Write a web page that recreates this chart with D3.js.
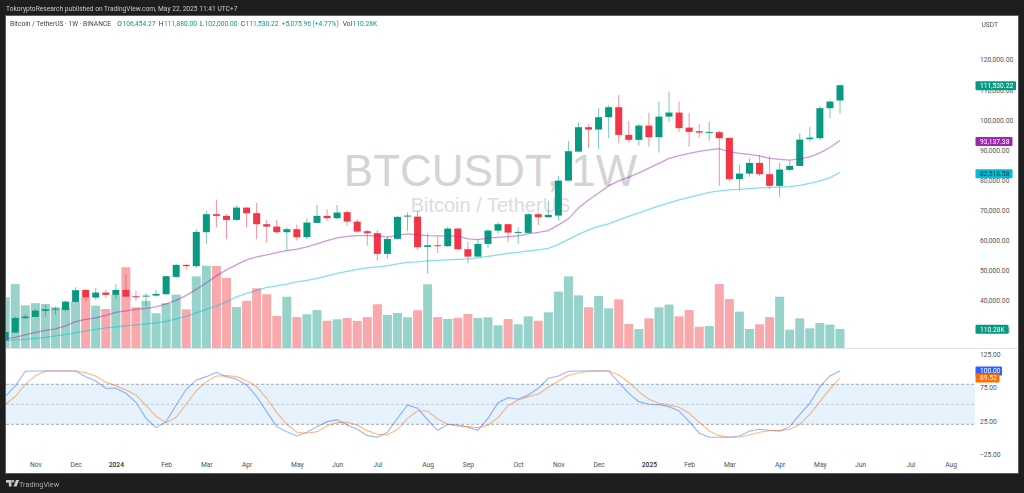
<!DOCTYPE html>
<html>
<head>
<meta charset="utf-8">
<script src="https://cdn.jsdelivr.net/npm/d3@7"></script>
<style>
  html, body { margin: 0; padding: 0; background: #1e1e1e; overflow: hidden; }
  svg { display: block; font-family: Roboto, sans-serif; filter: blur(0.3px); }
  .axis text { font-family: Roboto, sans-serif; font-size: 6.7px; fill: #4f5259; }
  .axis path, .axis line { display: none; }
</style>
</head>
<body>
<svg id="chart" width="1024" height="493"></svg>
<script>
// weekly candles, 16 Oct 2023 to 19 May 2025
var weeks = d3.utcMonday.range(new Date(Date.UTC(2023, 9, 16)), new Date(Date.UTC(2025, 4, 20)));

var opens = [26560,29220,34010,34440,36440,36870,36770,39430,43430,40870,42530,41770,43430,41330,41200,41530,42000,47760,51750,51320,62630,68620,68060,66720,70820,68950,65290,64500,62630,63630,60970,65730,68060,67290,69290,66160,62960,62300,55410,60400,67820,67820,57740,58300,57970,63830,56970,54510,58740,63160,65290,62400,62400,68620,67620,68160,79800,89450,97570,96780,100900,104230,95010,93350,98100,94250,101100,102430,97440,96240,95780,95910,94010,80270,82130,85690,81930,78040,83360,84690,93580,93910,103900,106454.27];
var highs = [30120,34540,35440,37100,38440,37870,39870,44330,43530,44000,43430,45400,48750,43200,42330,43430,48200,52180,52180,63630,69720,73480,68620,71490,70950,72380,66720,66720,64290,65160,67290,71720,70290,71720,69820,66960,63400,63400,61170,68060,69160,69720,62300,61170,64500,64160,59400,60400,63630,65960,65390,64290,68950,69160,73150,81370,93020,99240,98570,103900,105000,108320,99670,98670,102430,106100,109420,106100,102330,98670,99340,96340,94110,85030,87260,88360,88120,85790,86460,95580,97670,104660,106430,111880];
var lows = [26120,29120,33780,34340,34440,35110,36210,39200,39770,40100,40870,40330,41100,39870,38100,41200,41770,47420,50190,50650,58740,64290,60300,66390,64290,60300,59170,62070,56300,59840,60400,65730,66390,66960,64730,62500,58170,53180,53840,60170,63060,56740,48750,55740,57640,56740,52300,54310,57410,62160,59400,58740,62160,65060,67290,66490,79800,89250,90590,90250,93910,92250,92450,91450,91120,89120,99240,96010,91120,93910,93120,78040,79700,76470,81030,81370,76940,74380,82800,84690,92780,93350,100570,102000];
var closes = [29450,34110,34540,36540,37000,37210,39530,43330,40870,42530,41770,43430,41200,41200,41530,42100,47990,51750,51320,62730,68620,68060,66720,70820,68950,65290,64500,62630,63630,60970,65830,68060,67290,69160,66160,62830,62300,55410,60400,67720,68160,57640,58300,57970,63830,56970,54510,58740,63160,65290,62500,62730,68620,67620,68390,79800,89590,97570,96780,100900,104230,95010,93350,98100,94250,101100,102430,97240,96010,95780,96010,93910,80270,82130,85690,81930,78040,83460,84690,93450,94110,103900,106100,111530.22];

// volume in thousands of BTC
var volumes = [291,366,245,257,253,234,235,266,288,243,224,304,462,234,271,200,257,306,222,410,471,469,401,235,271,342,308,184,294,178,194,218,157,165,173,156,178,251,190,201,177,217,365,178,167,174,196,173,177,131,167,137,182,157,205,323,410,302,234,298,228,279,139,110,171,234,249,182,218,123,127,367,281,209,110,137,178,294,106,171,114,144,135,110.28];

var maFast = [27120,27620,28450,29290,29950,30450,31450,32880,33610,34110,34940,35940,36440,36940,37270,37770,38770,39930,41600,43590,45760,48090,50080,51850,53410,54410,55080,55840,56510,56970,57740,58740,59840,60730,61230,61500,61500,61400,60970,61570,62070,61730,61500,61400,61400,61400,60400,60170,60630,60900,61170,61400,62070,62560,63160,65060,67060,70720,73380,75710,78040,79700,80940,82370,83930,85530,87190,88120,88850,89520,90020,90450,89350,88850,88520,88020,87190,86860,86590,87030,87690,89020,90790,93137.38];
var maSlow = [26620,26790,26950,27290,27620,28120,28550,29120,29780,30280,30780,31110,31450,31780,32110,32450,32950,33780,34610,35770,36940,38100,39430,41100,42260,43260,44260,44760,45330,46090,46590,47260,48090,48920,49580,50250,50750,51080,51410,52080,52580,52750,53080,53250,53410,53580,53750,54080,54580,55080,55580,55910,56410,56740,57240,58570,60230,61900,63400,64560,65390,66720,67890,69050,70220,71380,72380,73380,74210,75040,75880,76380,76710,76870,77140,77370,77470,77640,77810,78210,78870,79700,80800,82518.58];

var stochK = [61.5,77.5,99.5,100,100,100,100,100,91.5,85,74,74,66.5,53,29,15,24,49,72.5,86.5,91.5,98,91.5,87.5,79,61.5,39,16.5,9,2.5,8,16.5,24,27,19,12.5,3,0.5,8,29,49,44,26.5,11,20,19,15.5,11,29,52.5,60,57.5,64,74,89,92.5,99.5,100,100,100,100,83,66.5,54,50,49.5,46.5,40,24,7,0.5,0.5,0.5,2.5,10,12.5,11,10,16.5,35,51.5,76.5,92.5,100];
var stochD = [50,61.5,80,93,100,100,100,100,97.5,92.5,83,78,71.5,64,48,32,22.5,30.5,50.5,70,84,92.5,93,91.5,85.5,76.5,59,37.5,20,8,6.5,9,17.5,22.5,23,19,10.5,5,4,12.5,29,40,40,28,20,17.5,16.5,15,18.5,30,48,56.5,61.5,65.5,75.5,85,93.5,97,99.5,100,100,94,83,69,57.5,51.5,49,45.5,36.5,23,10,3,0.5,1,4,8,10.5,10.5,12.5,20,35,54,73,89.52];

var priceTicks = [30000,40000,50000,60000,70000,80000,90000,100000,110000,120000];
var stochTicks = [125,75,25,-25];
var stochLevels = [80,50,20];

var timeTicks = [
  [2023,10,6,"Nov"],[2023,11,4,"Dec"],[2024,0,1,"2024"],[2024,1,5,"Feb"],[2024,2,4,"Mar"],[2024,3,1,"Apr"],
  [2024,4,6,"May"],[2024,5,3,"Jun"],[2024,6,1,"Jul"],[2024,7,5,"Aug"],[2024,8,2,"Sep"],[2024,9,7,"Oct"],
  [2024,10,4,"Nov"],[2024,11,2,"Dec"],[2025,0,6,"2025"],[2025,1,3,"Feb"],[2025,2,3,"Mar"],[2025,3,7,"Apr"],
  [2025,4,5,"May"],[2025,5,2,"Jun"],[2025,6,7,"Jul"],[2025,7,4,"Aug"]
];

var UP = "#089981", DOWN = "#f23645";
var left = 6, right = 975, paneRight = 1018, bottom = 473;

var svg = d3.select("#chart");

svg.append("rect").attr("x", left).attr("y", 16).attr("width", paneRight - left).attr("height", bottom - 16).attr("fill", "#fff");
svg.append("rect").attr("x", left - 0.5).attr("y", 15.5).attr("width", paneRight - left + 1).attr("height", bottom - 15).attr("fill", "none").attr("stroke", "#8a8a8a").attr("stroke-width", 0.6);

svg.append("clipPath").attr("id", "plot").append("rect").attr("x", left).attr("y", 16).attr("width", right - left).attr("height", bottom - 16);

var x = d3.scaleUtc().domain([weeks[0], weeks[weeks.length - 1]]).range([5.2, 840]);
var y = d3.scaleLinear().domain([30000, 120000]).range([330.25, 59.8]);
var yVol = d3.scaleLinear().domain([0, 500]).range([348.3, 260.6]);
var yStoch = d3.scaleLinear().domain([-25, 125]).range([454.3, 354.3]);

var plot = svg.append("g").attr("clip-path", "url(#plot)");

// watermark
plot.append("text").attr("x", 490.5).attr("y", 186).attr("text-anchor", "middle")
  .style("font-family", "'Liberation Sans', sans-serif").style("font-size", "44px").attr("fill", "#d4d4d6").text("BTCUSDT, 1W");
plot.append("text").attr("x", 490.5).attr("y", 212).attr("text-anchor", "middle")
  .style("font-family", "'Liberation Sans', sans-serif").style("font-size", "20px").attr("fill", "#dcdcde").text("Bitcoin / TetherUS");

// volume
plot.selectAll(".vol").data(volumes).enter().append("rect")
  .attr("class", "vol")
  .attr("x", function(d, i) { return x(weeks[i]) - 4.5; })
  .attr("width", 9)
  .attr("y", function(d) { return yVol(d); })
  .attr("height", function(d) { return yVol(0) - yVol(d); })
  .attr("fill", function(d, i) { return closes[i] >= opens[i] ? "#97d3ca" : "#f9a9ac"; });

// candles
plot.selectAll(".wick").data(weeks).enter().append("line")
  .attr("class", "wick")
  .attr("x1", function(d) { return x(d); })
  .attr("x2", function(d) { return x(d); })
  .attr("y1", function(d, i) { return y(highs[i]); })
  .attr("y2", function(d, i) { return y(lows[i]); })
  .attr("stroke", function(d, i) { return closes[i] >= opens[i] ? UP : DOWN; })
  .attr("stroke-opacity", 0.55)
  .attr("stroke-width", 1);

plot.selectAll(".body").data(weeks).enter().append("rect")
  .attr("class", "body")
  .attr("x", function(d) { return x(d) - 3.5; })
  .attr("width", 7)
  .attr("y", function(d, i) { return y(Math.max(opens[i], closes[i])); })
  .attr("height", function(d, i) { return Math.max(1, Math.abs(y(opens[i]) - y(closes[i]))); })
  .attr("fill", function(d, i) { return closes[i] >= opens[i] ? UP : DOWN; });

function drawLine(values, scale, colour, opacity, width) {
  var line = d3.line()
    .x(function(d, i) { return x(weeks[i]); })
    .y(function(d) { return scale(d); });
  plot.append("path").attr("d", line(values)).attr("fill", "none")
    .attr("stroke", colour).attr("stroke-opacity", opacity).attr("stroke-width", width);
}

drawLine(maFast, y, "#9c27b0", 0.48, 1.25);
drawLine(maSlow, y, "#00bcd4", 0.48, 1.25);

// pane separator
svg.append("line").attr("x1", left).attr("x2", paneRight).attr("y1", 348.5).attr("y2", 348.5).attr("stroke", "#e0e3eb").attr("stroke-width", 1);

// stochastic pane
plot.append("rect").attr("x", left).attr("width", right - left)
  .attr("y", yStoch(stochLevels[0])).attr("height", yStoch(stochLevels[2]) - yStoch(stochLevels[0]))
  .attr("fill", "#e6f3fd");

plot.selectAll(".level").data(stochLevels).enter().append("line")
  .attr("class", "level")
  .attr("x1", left).attr("x2", right)
  .attr("y1", function(d) { return yStoch(d); })
  .attr("y2", function(d) { return yStoch(d); })
  .attr("stroke", function(d) { return d === 50 ? "#b8bcc4" : "#8f939b"; })
  .attr("stroke-width", 0.8)
  .attr("stroke-dasharray", "3,2");

drawLine(stochK, yStoch, "#2962ff", 0.48, 1.1);
drawLine(stochD, yStoch, "#ff6d00", 0.48, 1.1);

// axes
var priceAxis = d3.axisRight(y).tickValues(priceTicks).tickSize(0).tickPadding(0)
  .tickFormat(function(d) { return d3.format(",.2f")(d); });
svg.append("g").attr("class", "axis").attr("transform", "translate(980,0)").call(priceAxis);

var stochAxis = d3.axisRight(yStoch).tickValues(stochTicks).tickSize(0).tickPadding(0)
  .tickFormat(function(d) { return d3.format(".2f")(d).replace("-", "\u2212"); });
svg.append("g").attr("class", "axis").attr("transform", "translate(980,0)").call(stochAxis);

var tickDates = timeTicks.map(function(t) { return new Date(Date.UTC(t[0], t[1], t[2])); });
var timeAxis = d3.axisBottom(x).tickValues(tickDates).tickSize(0).tickPadding(0)
  .tickFormat(function(d, i) { return timeTicks[i][3]; });
var timeG = svg.append("g").attr("class", "axis").attr("transform", "translate(0,462.5)").call(timeAxis);
timeG.selectAll("text").filter(function(d, i) { return /^20/.test(timeTicks[i][3]); })
  .style("font-weight", 500).style("fill", "#2a2e39");

// last value tags
function tag(value, width, colour, text, textColour) {
  var cy = text.scale(value);
  svg.append("rect").attr("x", 975.5).attr("y", cy - 4.5 + text.dy).attr("width", width).attr("height", 9).attr("rx", 1).attr("fill", colour);
  svg.append("text").attr("x", 980).attr("y", cy + 2.4 + text.dy).attr("fill", textColour)
    .style("font-size", "6.7px").text(text.label);
}

tag(closes[83], 40.5, UP, { scale: y, dy: 0.5, label: d3.format(",.2f")(closes[83]) }, "#fff");
tag(maFast[83], 37, "#9c27b0", { scale: y, dy: 1, label: d3.format(",.2f")(maFast[83]) }, "#fff");
tag(maSlow[83], 37, "#00bcd4", { scale: y, dy: 1.2, label: d3.format(",.2f")(maSlow[83]) }, "#10323a");
tag(volumes[83], 33, UP, { scale: yVol, dy: 0.3, label: volumes[83] + "K" }, "#fff");
tag(stochK[83], 26.5, "#2962ff", { scale: yStoch, dy: 0, label: d3.format(".2f")(stochK[83]) }, "#fff");
tag(stochD[83], 24, "#ff6d00", { scale: yStoch, dy: 0, label: d3.format(".2f")(stochD[83]) }, "#fff");

// header
svg.append("text").attr("x", 6).attr("y", 10.5).attr("fill", "#c9c9c9").style("font-size", "6.65px")
  .text("TokoryptoResearch published on TradingView.com, May 22, 2025 11:41 UTC+7");

svg.append("text").attr("x", 981.5).attr("y", 26.5).attr("fill", "#4f5259").style("font-size", "6.7px").text("USDT");

// legend row
var legendRow = [
  [10, "Bitcoin / TetherUS \u00b7 1W \u00b7 BINANCE", "#3c3f47"],
  [117.3, "O", "#3c3f47"], [122.5, "106,454.27", UP],
  [158.7, "H", "#3c3f47"], [164, "111,880.00", UP],
  [200, "L", "#3c3f47"], [204.5, "102,000.00", UP],
  [240.7, "C", "#3c3f47"], [245.5, "111,530.22", UP],
  [281.7, "+5,075.96 (+4.77%)", UP],
  [342.7, "Vol", "#3c3f47"], [352.5, "110.28K", UP]
];
svg.selectAll(".legend").data(legendRow).enter().append("text")
  .attr("class", "legend")
  .attr("x", function(d) { return d[0]; })
  .attr("y", 25.5)
  .attr("fill", function(d) { return d[2]; })
  .style("font-size", "6.65px")
  .text(function(d) { return d[1]; });

// footer logo
svg.append("path").attr("fill", "#c9c9c9")
  .attr("d", "M6 480h5.5v6.5h-2.7v-3.7H6z M16 480h3.2l-2.6 6.5h-3.2z");
svg.append("circle").attr("cx", 12.9).attr("cy", 481.3).attr("r", 1.3).attr("fill", "#c9c9c9");
svg.append("text").attr("x", 19).attr("y", 486.5).attr("fill", "#a9a9a9").style("font-size", "7.3px").text("TradingView");
</script>
</body>
</html>
